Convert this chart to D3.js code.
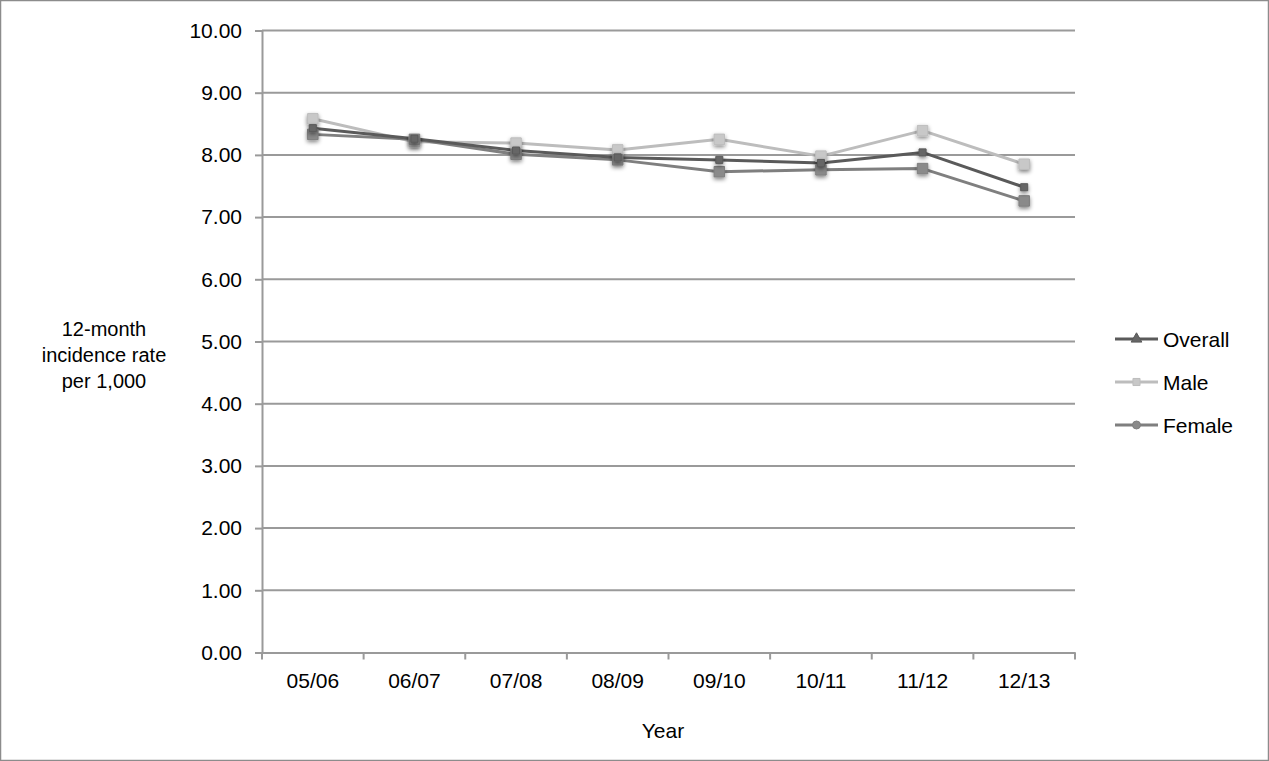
<!DOCTYPE html>
<html><head><meta charset="utf-8">
<script src="https://cdn.jsdelivr.net/npm/d3@7"></script>
<style>body{margin:0;background:#fff}svg{display:block;font-family:"Liberation Sans",Arial,sans-serif}</style>
</head><body><svg id="c" width="1269" height="761"></svg>
<script>
const years = ["05/06","06/07","07/08","08/09","09/10","10/11","11/12","12/13"];
const overall = [8.43,8.26,8.07,7.96,7.92,7.87,8.04,7.48];
const male    = [8.58,8.21,8.19,8.08,8.25,7.98,8.39,7.85];
const female  = [8.33,8.25,8.01,7.92,7.73,7.76,7.78,7.26];
const yTicks = [0,1,2,3,4,5,6,7,8,9,10];
const seriesNames = ["Overall","Male","Female"];

const series = [
  {name:seriesNames[0], values:overall, color:"#5a5a5a", sym:d3.symbolTriangle, mfill:"#666"},
  {name:seriesNames[1], values:male, color:"#bdbdbd", sym:d3.symbolSquare, mfill:"#c8c8c8"},
  {name:seriesNames[2], values:female, color:"#7f7f7f", sym:d3.symbolCircle, mfill:"#8a8a8a"}
];

const svg = d3.select("#c");
svg.append("rect").attr("x",0.5).attr("y",0.5).attr("width",1268).attr("height",760)
  .attr("fill","#fff").attr("stroke","#8c8c8c").attr("stroke-width",1.5);

const defs = svg.append("defs");
const f = defs.append("filter").attr("id","sh").attr("x","-100%").attr("y","-100%").attr("width","300%").attr("height","300%");
f.append("feGaussianBlur").attr("in","SourceAlpha").attr("stdDeviation",2).attr("result","b");
f.append("feOffset").attr("in","b").attr("dy",2).attr("result","o");
f.append("feComponentTransfer").attr("in","o").attr("result","o2").append("feFuncA").attr("type","linear").attr("slope",0.5);
const m = f.append("feMerge"); m.append("feMergeNode").attr("in","o2"); m.append("feMergeNode").attr("in","SourceGraphic");

const L=262, R=1075, T=30.5, B=652.5;
const FS = 21;
const x = d3.scaleBand().domain(years).range([L,R]);
const y = d3.scaleLinear().domain([0,10]).range([B,T]);

// gridlines
svg.append("g").selectAll("line").data(yTicks.filter(d=>d>0)).join("line")
  .attr("x1",L).attr("x2",R).attr("y1",d=>y(d)).attr("y2",d=>y(d))
  .attr("stroke","#9a9a9a").attr("stroke-width",2);

// y axis
const ya = svg.append("g").attr("transform",`translate(${L},0)`)
  .call(d3.axisLeft(y).tickValues(yTicks).tickFormat(d3.format(".2f")).tickSize(7).tickPadding(13));
ya.select(".domain").attr("stroke","#9a9a9a").attr("stroke-width",2);
ya.selectAll(".tick line").attr("stroke","#9a9a9a").attr("stroke-width",2);
ya.selectAll("text").attr("font-size",FS).attr("fill","#000").attr("font-family","Liberation Sans, Arial, sans-serif");

// x axis
const xa = svg.append("g").attr("transform",`translate(0,${B})`)
  .call(d3.axisBottom(x).tickSize(0).tickPadding(21));
xa.select(".domain").attr("stroke","#9a9a9a").attr("stroke-width",2);
xa.selectAll("text").attr("font-size",FS).attr("fill","#000").attr("font-family","Liberation Sans, Arial, sans-serif");
svg.append("g").selectAll("line").data(years.concat(["end"])).join("line")
  .attr("x1",(d,i)=>L+i*x.step()).attr("x2",(d,i)=>L+i*x.step())
  .attr("y1",B).attr("y2",B+7).attr("stroke","#9a9a9a").attr("stroke-width",2);

// lines
const line = d3.line().x((d,i)=>x(years[i])+x.bandwidth()/2).y(d=>y(d));
const drawOrder = [series[1], series[2], series[0]];
drawOrder.forEach(s=>{
  svg.append("path").datum(s.values).attr("d",line).attr("fill","none")
    .attr("stroke",s.color).attr("stroke-width",3).attr("stroke-linejoin","round");
});
drawOrder.forEach(s=>{
  svg.append("g").selectAll("path").data(s.values).join("path")
    .attr("transform",(d,i)=>`translate(${x(years[i])+x.bandwidth()/2},${y(d)})`)
    .attr("d",d3.symbol().type(d3.symbolSquare).size(s.name==="Overall"?50:110))
    .attr("fill",s.mfill).attr("stroke",s.color).attr("stroke-width",1).attr("filter","url(#sh)");
});

// legend
const lg = svg.append("g");
series.forEach((s,i)=>{
  const yy = 339 + i*43;
  lg.append("line").attr("x1",1115).attr("x2",1158).attr("y1",yy).attr("y2",yy)
    .attr("stroke",s.color).attr("stroke-width",3);
  lg.append("path").attr("transform",`translate(1136.5,${yy})`)
    .attr("d",d3.symbol().type(s.sym).size(50)).attr("fill",s.mfill).attr("stroke",s.color).attr("stroke-width",1);
  lg.append("text").attr("x",1163).attr("y",yy+8).attr("font-size",FS).text(s.name);
});

// axis titles
const yl = svg.append("text").attr("text-anchor","middle").attr("font-size",FS-1);
["12-month","incidence rate","per 1,000"].forEach((t,i)=>{
  yl.append("tspan").attr("x",104).attr("y",336+i*26).text(t);
});
svg.append("text").attr("x",663).attr("y",738).attr("text-anchor","middle").attr("font-size",FS).text("Year");
</script></body></html>
